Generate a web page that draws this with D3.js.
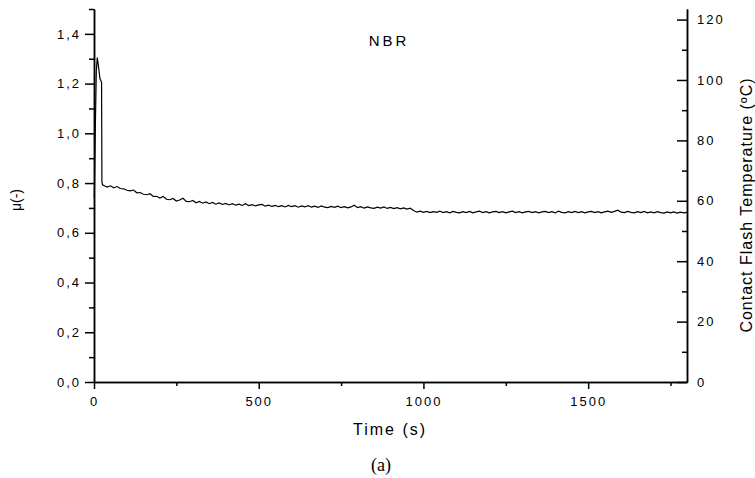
<!DOCTYPE html>
<html lang="en">

<head>
    <meta charset="UTF-8">
    <title>NBR - friction coefficient vs time</title>
    <script src="https://d3js.org/d3.v7.min.js"></script>
    <style>
        body {
            margin: 0;
            background: white;
            font-family: "Liberation Sans", Arial, sans-serif;
        }

        text {
            font-family: "Liberation Sans", Arial, sans-serif;
        }

        .axis path,
        .axis line {
            stroke: black;
            stroke-width: 1.5px;
        }

        .axis text {
            font-size: 13px;
            letter-spacing: 2px;
            fill: black;
            font-family: "Liberation Sans", Arial, sans-serif;
        }
    </style>
</head>

<body>
    <svg id="vis"></svg>
    <script>
        const width = 755;
        const height = 478;

        // start of the run: sharp spike at the beginning
        const spikeTime = [1, 4, 7, 10, 14, 18, 21, 23, 24, 26];
        const spikeMu = [0.74, 1.02, 1.25, 1.305, 1.265, 1.22, 1.212, 1.205, 0.805, 0.793];

        // steady part, one reading every 10 s from 30 s to 1800 s
        const steadyMu = [
            0.790, 0.784, 0.789, 0.781, 0.786, 0.778, 0.777, 0.771, 0.769, 0.772,
            0.761, 0.762, 0.755, 0.753, 0.757, 0.746, 0.747, 0.740, 0.746, 0.735,
            0.733, 0.738, 0.728, 0.732, 0.739, 0.726, 0.725, 0.730, 0.721, 0.726,
            0.719, 0.724, 0.717, 0.722, 0.715, 0.720, 0.714, 0.718, 0.712, 0.717,
            0.711, 0.715, 0.710, 0.717, 0.709, 0.713, 0.708, 0.712, 0.714, 0.707,
            0.711, 0.706, 0.710, 0.705, 0.709, 0.704, 0.710, 0.705, 0.709, 0.703,
            0.708, 0.704, 0.709, 0.703, 0.707, 0.702, 0.708, 0.703, 0.701, 0.706,
            0.702, 0.707, 0.701, 0.705, 0.700, 0.704, 0.711, 0.701, 0.705, 0.699,
            0.704, 0.700, 0.698, 0.703, 0.699, 0.704, 0.698, 0.702, 0.697, 0.701,
            0.696, 0.700, 0.695, 0.699, 0.690, 0.683, 0.687, 0.682, 0.686, 0.681,
            0.685, 0.682, 0.687, 0.681, 0.685, 0.680, 0.686, 0.682, 0.680, 0.685,
            0.681, 0.686, 0.680, 0.684, 0.687, 0.681, 0.685, 0.680, 0.684, 0.686,
            0.681, 0.685, 0.680, 0.684, 0.687, 0.681, 0.685, 0.680, 0.684, 0.686,
            0.681, 0.685, 0.680, 0.684, 0.686, 0.681, 0.685, 0.680, 0.687, 0.682,
            0.680, 0.685, 0.681, 0.686, 0.681, 0.685, 0.680, 0.684, 0.686, 0.681,
            0.685, 0.680, 0.684, 0.687, 0.682, 0.686, 0.691, 0.683, 0.681, 0.686,
            0.682, 0.680, 0.685, 0.681, 0.686, 0.680, 0.684, 0.680, 0.685, 0.681,
            0.679, 0.684, 0.680, 0.684, 0.679, 0.683, 0.680, 0.682
        ];
        const steadyTime = d3.range(30, 1801, 10);

        const muTicks = [0, 0.2, 0.4, 0.6, 0.8, 1.0, 1.2, 1.4];
        const tempTicks = [0, 20, 40, 60, 80, 100, 120];
        const timeTicks = [0, 500, 1000, 1500];

        const margin = { left: 94, right: 68, top: 9, bottom: 96 };

        const svg = d3.select("#vis").attr("width", width).attr("height", height);

        const x = d3.scaleLinear().domain([0, 1800]).range([margin.left, width - margin.right]);
        const y = d3.scaleLinear().domain([0, 1.5]).range([height - margin.bottom, margin.top]);
        const yT = d3.scaleLinear().domain([0, 123.5]).range([height - margin.bottom, margin.top]);

        const comma = d => d3.format(".1f")(d).replace(".", ",");

        // minor ticks first, then major ticks with labels
        svg.append("g").attr("class", "axis")
            .attr("transform", `translate(${margin.left},0)`)
            .call(d3.axisLeft(y).tickValues(d3.range(1, 16, 2).map(d => d / 10)).tickSize(5).tickSizeOuter(0).tickFormat(""));
        svg.append("g").attr("class", "axis")
            .attr("transform", `translate(${margin.left},0)`)
            .call(d3.axisLeft(y).tickValues(muTicks).tickSize(9).tickPadding(4).tickSizeOuter(0).tickFormat(comma));

        const xAxisY = height - margin.bottom;
        svg.append("g").attr("class", "axis")
            .attr("transform", `translate(0,${xAxisY})`)
            .call(d3.axisBottom(x).tickValues([250, 750, 1250, 1750]).tickSize(4).tickSizeOuter(0).tickFormat(""));
        svg.append("g").attr("class", "axis")
            .attr("transform", `translate(0,${xAxisY})`)
            .call(d3.axisBottom(x).tickValues(timeTicks).tickSize(7).tickPadding(8).tickSizeOuter(0).tickFormat(d3.format("d")));

        const rx = width - margin.right;
        svg.append("g").attr("class", "axis")
            .attr("transform", `translate(${rx},0)`)
            .call(d3.axisRight(yT).tickValues([10, 30, 50, 70, 90, 110]).tickSize(-5).tickSizeOuter(0).tickFormat(""));
        svg.append("g").attr("class", "axis")
            .attr("transform", `translate(${rx},0)`)
            .call(d3.axisRight(yT).tickValues(tempTicks).tickSize(-10).tickPadding(10).tickSizeOuter(0));

        // data line
        const points = spikeTime.map((t, i) => [t, spikeMu[i]])
            .concat(steadyTime.map((t, i) => [t, steadyMu[i]]));
        const line = d3.line().x(d => x(d[0])).y(d => y(d[1]));
        svg.append("path")
            .datum(points)
            .attr("d", line)
            .attr("fill", "none")
            .attr("stroke", "black")
            .attr("stroke-width", 1.2);

        // labels
        svg.append("text")
            .attr("x", 390).attr("y", 435)
            .attr("text-anchor", "middle")
            .style("font-size", "16px").style("letter-spacing", "2px")
            .text("Time (s)");

        svg.append("text")
            .attr("x", 389).attr("y", 46)
            .attr("text-anchor", "middle")
            .style("font-size", "15px").style("letter-spacing", "3px")
            .text("NBR");

        svg.append("text")
            .attr("transform", "translate(21,200) rotate(-90)")
            .attr("text-anchor", "middle")
            .style("font-size", "14px")
            .text("μ(-)");

        svg.append("text")
            .attr("transform", "translate(752,205) rotate(-90)")
            .attr("text-anchor", "middle")
            .style("font-size", "16px").style("letter-spacing", "1px")
            .text("Contact Flash Temperature (ºC)");

        svg.append("text")
            .attr("x", 381).attr("y", 471)
            .attr("text-anchor", "middle")
            .style("font-family", "'Liberation Serif', 'Times New Roman', serif")
            .style("font-size", "18px")
            .text("(a)");
    </script>
</body>

</html>
